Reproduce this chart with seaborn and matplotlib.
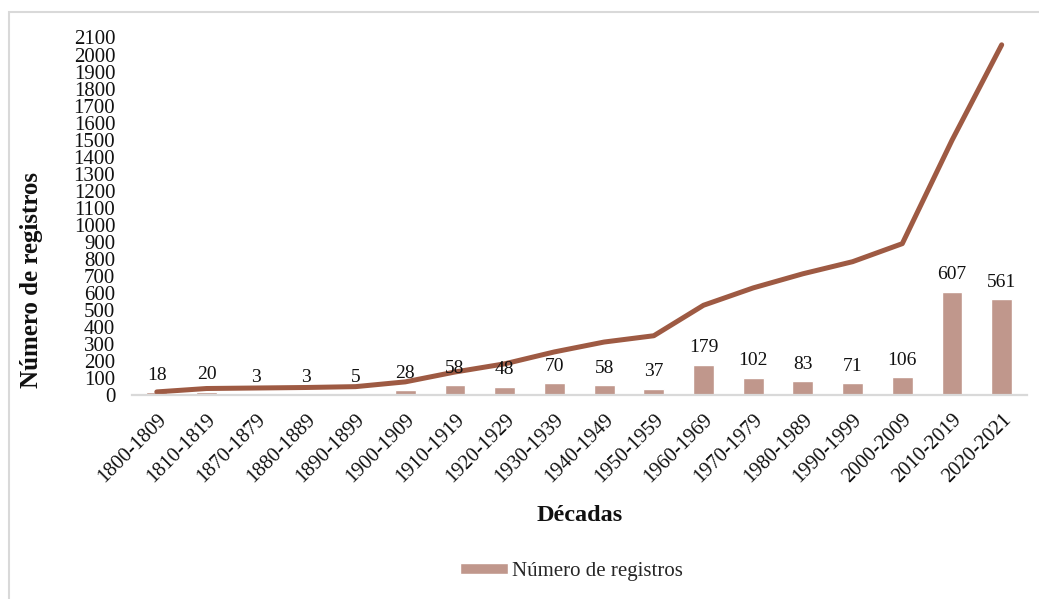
import matplotlib
matplotlib.use("Agg")
import matplotlib.pyplot as plt
from matplotlib.patches import Rectangle
import seaborn as sns
import pandas as pd

# Registros por década y acumulado
decadas = ["1800-1809", "1810-1819", "1870-1879", "1880-1889", "1890-1899",
           "1900-1909", "1910-1919", "1920-1929", "1930-1939", "1940-1949",
           "1950-1959", "1960-1969", "1970-1979", "1980-1989", "1990-1999",
           "2000-2009", "2010-2019", "2020-2021"]
registros = [18, 20, 3, 3, 5, 28, 58, 48, 70, 58, 37, 179, 102, 83, 71, 106, 607, 561]
acumulado = [18, 38, 41, 44, 49, 77, 135, 183, 253, 311, 348, 527, 629, 712,
             783, 889, 1496, 2057]
y_ticks = list(range(0, 2101, 100))

df = pd.DataFrame({"decada": decadas, "registros": registros, "acumulado": acumulado})

sns.set_theme(style="white")
plt.rcParams["font.family"] = ["Liberation Serif", "DejaVu Serif"]

BAR_COLOR = "#C0978C"
LINE_COLOR = "#9E5A43"
AXIS_GRAY = "#D9D9D9"
TEXT = "#111111"

fig = plt.figure(figsize=(10.39, 5.99), dpi=100)
ax = fig.add_axes([0.127, 0.3406, 0.861, 0.5968])

sns.barplot(data=df, x="decada", y="registros", color=BAR_COLOR, width=0.42,
            saturation=1, ax=ax, label="Número de registros")
sns.lineplot(x=list(range(len(decadas))), y=df["acumulado"], color=LINE_COLOR,
             linewidth=3.6, ax=ax, solid_capstyle="round")

ax.bar_label(ax.containers[0], labels=[str(v) for v in registros],
             padding=6, fontsize=14, color=TEXT)

ax.set_ylim(0, 2100)
ax.set_xlim(-0.5, len(decadas) - 0.5)
ax.set_yticks(y_ticks)
ax.set_yticklabels([str(t) for t in y_ticks], fontsize=15, color=TEXT)
ax.tick_params(axis="y", length=0, pad=12)
ax.tick_params(axis="x", length=0, pad=11)
ax.set_xticks(range(len(decadas)))
ax.set_xticklabels(decadas, rotation=45, ha="right", va="top",
                   rotation_mode="anchor", fontsize=14.8, color=TEXT)

for side in ["left", "right", "top"]:
    ax.spines[side].set_visible(False)
ax.spines["bottom"].set_color(AXIS_GRAY)
ax.spines["bottom"].set_linewidth(1.6)
ax.grid(False)

ax.set_xlabel("Décadas", fontsize=17.5, fontweight="bold", color=TEXT)
ax.set_ylabel("Número de registros", fontsize=18, fontweight="bold", color=TEXT)
ax.yaxis.set_label_coords(-0.0996, 0.321)
ax.xaxis.set_label_coords(0.5, -0.307)

handles, labels = ax.get_legend_handles_labels()
bar_handle = [h for h, l in zip(handles, labels) if l == "Número de registros"][0]
if ax.get_legend() is not None:
    ax.get_legend().remove()
fig.legend([bar_handle], ["Número de registros"], loc="center",
           bbox_to_anchor=(0.55, 0.046), frameon=False, fontsize=15,
           handlelength=2.3, handleheight=0.5, handletextpad=0.2)

# outer chart frame
fig.add_artist(Rectangle((8.5 / 1039, -0.05), 1.2, 1.05 - 12 / 599,
                         transform=fig.transFigure, fill=False,
                         edgecolor=AXIS_GRAY, linewidth=1.5))

fig.savefig("out.png", dpi=100, facecolor="white")
